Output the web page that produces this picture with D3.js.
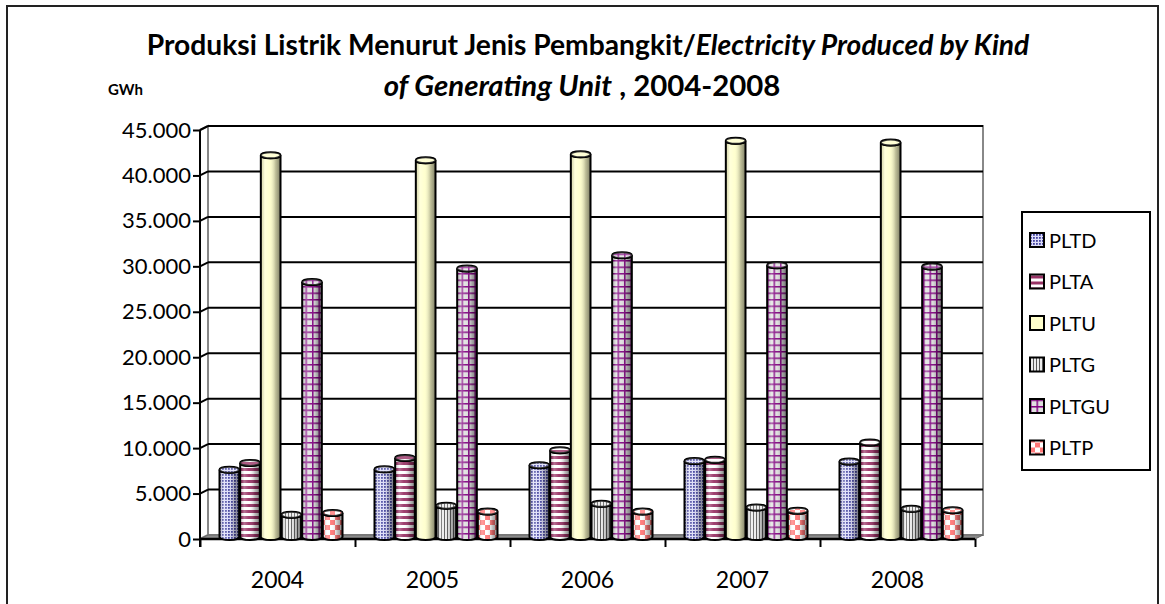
<!DOCTYPE html>
<html>
<head>
<meta charset="utf-8">
<script src="https://cdn.jsdelivr.net/npm/d3@7"></script>
<style>
  body { margin: 0; background: #fff; }
  text { font-family: Lato, "Open Sans", sans-serif; fill: #000; }
</style>
</head>
<body>
<div id="chart"></div>
<script>
// data
var years = ['2004', '2005', '2006', '2007', '2008'];
var series = ['PLTD', 'PLTA', 'PLTU', 'PLTG', 'PLTGU', 'PLTP'];
var pltd  = [7400, 7450, 7900, 8350, 8300];
var plta  = [8150, 8700, 9550, 8500, 10400];
var pltu  = [42000, 41450, 42100, 43600, 43400];
var pltg  = [2450, 3450, 3650, 3250, 3100];
var pltgu = [28050, 29550, 31000, 29900, 29750];
var pltp  = [2650, 2800, 2800, 2900, 2950];
var yTicks = [0, 5000, 10000, 15000, 20000, 25000, 30000, 35000, 40000, 45000];

var values = { PLTD: pltd, PLTA: plta, PLTU: pltu, PLTG: pltg, PLTGU: pltgu, PLTP: pltp };

var svgW = 1165, svgH = 604;
var dx = 8, dy = -4;   // depth of the 3d box

var svg = d3.select('#chart').append('svg')
  .attr('width', svgW)
  .attr('height', svgH);

var defs = svg.append('defs');

// patterns
function pattern(id, w, h, build) {
  var p = defs.append('pattern').attr('id', id)
    .attr('patternUnits', 'userSpaceOnUse')
    .attr('width', w).attr('height', h);
  build(p);
}
pattern('pD', 3, 3, function (p) {
  p.append('rect').attr('width', 3).attr('height', 3).attr('fill', '#dcdcf8');
  p.append('rect').attr('width', 1.8).attr('height', 1.8).attr('fill', '#42429e');
});
pattern('pA', 6, 6, function (p) {
  p.append('rect').attr('width', 6).attr('height', 6).attr('fill', '#ffffff');
  p.append('rect').attr('width', 6).attr('height', 3).attr('fill', '#993366');
});
pattern('pU', 4, 4, function (p) {
  p.append('rect').attr('width', 4).attr('height', 4).attr('fill', '#ffffcc');
});
pattern('pG', 3, 3, function (p) {
  p.append('rect').attr('width', 3).attr('height', 3).attr('fill', '#ececec');
  p.append('rect').attr('width', 1).attr('height', 3).attr('fill', '#5a5a5a');
});
pattern('pGU', 6.5, 6.5, function (p) {
  p.append('rect').attr('width', 6.5).attr('height', 6.5).attr('fill', '#e0e0e0');
  p.append('rect').attr('width', 6.5).attr('height', 1.5).attr('fill', '#800080');
  p.append('rect').attr('width', 1.5).attr('height', 6.5).attr('fill', '#800080');
});
pattern('pP', 10, 10, function (p) {
  p.append('rect').attr('width', 10).attr('height', 10).attr('fill', '#ffffff');
  p.append('rect').attr('width', 5).attr('height', 5).attr('fill', '#ff7777');
  p.append('rect').attr('x', 5).attr('y', 5).attr('width', 5).attr('height', 5).attr('fill', '#ff7777');
});
var fills = { PLTD: 'url(#pD)', PLTA: 'url(#pA)', PLTU: 'url(#pU)', PLTG: 'url(#pG)', PLTGU: 'url(#pGU)', PLTP: 'url(#pP)' };

// cylinder shading
var shade = defs.append('linearGradient').attr('id', 'shade')
  .attr('x1', 0).attr('x2', 1).attr('y1', 0).attr('y2', 0);
[[0, '#000', 0.1], [0.2, '#fff', 0.3], [0.45, '#fff', 0.05], [0.75, '#000', 0.25], [1, '#000', 0.5]]
  .forEach(function (s) {
    shade.append('stop').attr('offset', s[0]).attr('stop-color', s[1]).attr('stop-opacity', s[2]);
  });

// outer frame
svg.append('rect')
  .attr('x', 7).attr('y', 6).attr('width', 1151).attr('height', 620)
  .attr('fill', 'none').attr('stroke', '#222').attr('stroke-width', 2);

// titles, fitted to the widths of the original
function fit(sel, target) {
  var len = sel.node().getComputedTextLength();
  sel.style('font-size', (20 * target / len) + 'px');
}
var t1 = svg.append('text').attr('x', 588).attr('y', 55)
  .attr('text-anchor', 'middle').style('font-weight', 'bold').style('font-size', '20px');
t1.append('tspan').text('Produksi Listrik Menurut Jenis Pembangkit/');
t1.append('tspan').style('font-style', 'italic').text('Electricity Produced by Kind');
fit(t1, 883);

var t2 = svg.append('text').attr('x', 582).attr('y', 96)
  .attr('text-anchor', 'middle').style('font-weight', 'bold').style('font-size', '20px');
t2.append('tspan').style('font-style', 'italic').text('of Generating Unit');
t2.append('tspan').text(' , 2004-2008');
fit(t2, 397);

svg.append('text').attr('x', 108).attr('y', 95)
  .style('font-weight', 'bold').style('font-size', '15px').text('GWh');

// scales
var x0 = d3.scaleBand().domain(years).range([200, 975]).paddingInner(0.2).paddingOuter(0.1);
var x1 = d3.scaleBand().domain(series).range([0, x0.bandwidth()]);
var xEdge = d3.scalePoint().domain(d3.range(years.length + 1)).range([200, 975]);
var y = d3.scaleLinear().domain([0, 45000]).range([539, 130]);

var fmt = d3.formatLocale({ decimal: ',', thousands: '.', grouping: [3], currency: ['', ''] }).format(',d');

// walls
var wall = svg.append('g');
wall.append('polygon')
  .attr('points', [[200, y(0)], [200, y(45000)], [200 + dx, y(45000) + dy], [200 + dx, y(0) + dy]].join(' '))
  .attr('fill', '#fff').attr('stroke', '#888').attr('stroke-width', 2);
wall.append('rect')
  .attr('x', 200 + dx).attr('y', y(45000) + dy)
  .attr('width', 775).attr('height', y(0) - y(45000))
  .attr('fill', '#fff').attr('stroke', '#888').attr('stroke-width', 2);
wall.append('polygon')
  .attr('points', [[200, y(0)], [975, y(0)], [975 + dx, y(0) + dy], [200 + dx, y(0) + dy]].join(' '))
  .attr('fill', '#8c8c8c').attr('stroke', '#666').attr('stroke-width', 1);

// gridlines on the back wall
var grid = wall.selectAll('.grid').data(yTicks.slice(1)).enter().append('g');
grid.append('line')
  .attr('x1', 200 + dx).attr('x2', 975 + dx)
  .attr('y1', d => y(d) + dy).attr('y2', d => y(d) + dy)
  .attr('stroke', '#000').attr('stroke-width', 2);
grid.append('line')
  .attr('x1', 200).attr('x2', 200 + dx)
  .attr('y1', d => y(d)).attr('y2', d => y(d) + dy)
  .attr('stroke', '#000').attr('stroke-width', 2);

// Y-axis
var yAxis = d3.axisLeft(y).tickValues(yTicks).tickFormat(fmt).tickSize(7).tickPadding(2);
var gy = svg.append('g').attr('transform', 'translate(200,0)').call(yAxis);
gy.select('.domain').attr('stroke-width', 2).attr('d', 'M0,' + (y(0) + 8) + 'V' + y(45000));
gy.selectAll('.tick line').attr('stroke-width', 2);
gy.selectAll('.tick text').style('font-size', '22px').style('font-family', 'Lato');

// X-axis: edge ticks + year labels
var gx = svg.append('g').attr('transform', 'translate(0,' + y(0) + ')')
  .call(d3.axisBottom(xEdge).tickFormat('').tickSize(8));
gx.select('.domain').attr('stroke-width', 2.5).attr('d', 'M200,0H975');
gx.selectAll('.tick line').attr('stroke-width', 2);

svg.append('g').selectAll('text').data(years).enter().append('text')
  .attr('x', d => x0(d) + x0.bandwidth() / 2)
  .attr('y', 588)
  .attr('text-anchor', 'middle')
  .style('font-size', '23px')
  .text(d => d);

// Cylinders
var ry = 3;
function body(x, w, yt, yb) {
  var r = w / 2;
  return 'M' + x + ',' + yt + 'L' + x + ',' + yb +
    'A' + r + ',' + ry + ' 0 0 0 ' + (x + w) + ',' + yb +
    'L' + (x + w) + ',' + yt +
    'A' + r + ',' + ry + ' 0 0 1 ' + x + ',' + yt + 'Z';
}

var bars = [];
years.forEach(function (yr, i) {
  series.forEach(function (s) {
    bars.push({ year: yr, key: s, value: values[s][i] });
  });
});

var cyl = svg.append('g').selectAll('g').data(bars).enter().append('g');
cyl.each(function (d) {
  var g = d3.select(this);
  var x = x0(d.year) + x1(d.key) + dx / 2;
  var w = x1.bandwidth() - 1;
  var yb = y(0) + dy / 2, yt = y(d.value) + dy / 2;
  var p = body(x, w, yt, yb);
  g.append('path').attr('d', p).attr('fill', fills[d.key]);
  g.append('path').attr('d', p).attr('fill', 'url(#shade)');
  g.append('path').attr('d', p).attr('fill', 'none').attr('stroke', '#000').attr('stroke-width', 2);
  g.append('ellipse').attr('cx', x + w / 2).attr('cy', yt).attr('rx', w / 2).attr('ry', ry)
    .attr('fill', fills[d.key]).attr('stroke', '#000').attr('stroke-width', 2);
  g.append('ellipse').attr('cx', x + w / 2).attr('cy', yt).attr('rx', w / 2).attr('ry', ry)
    .attr('fill', '#fff').attr('opacity', 0.2);
});

// Legend
var legend = svg.append('g');
legend.append('rect')
  .attr('x', 1022).attr('y', 212).attr('width', 128).attr('height', 258)
  .attr('fill', '#fff').attr('stroke', '#000').attr('stroke-width', 2);
var li = legend.selectAll('.item').data(series).enter().append('g')
  .attr('transform', (d, i) => 'translate(1030,' + (240 + i * 41.5) + ')');
li.append('rect').attr('x', 0).attr('y', -7).attr('width', 14).attr('height', 14)
  .attr('fill', d => fills[d]).attr('stroke', '#000').attr('stroke-width', 2);
li.append('text').attr('x', 19).attr('y', 7.5).style('font-size', '20px').text(d => d);
</script>
</body>
</html>
